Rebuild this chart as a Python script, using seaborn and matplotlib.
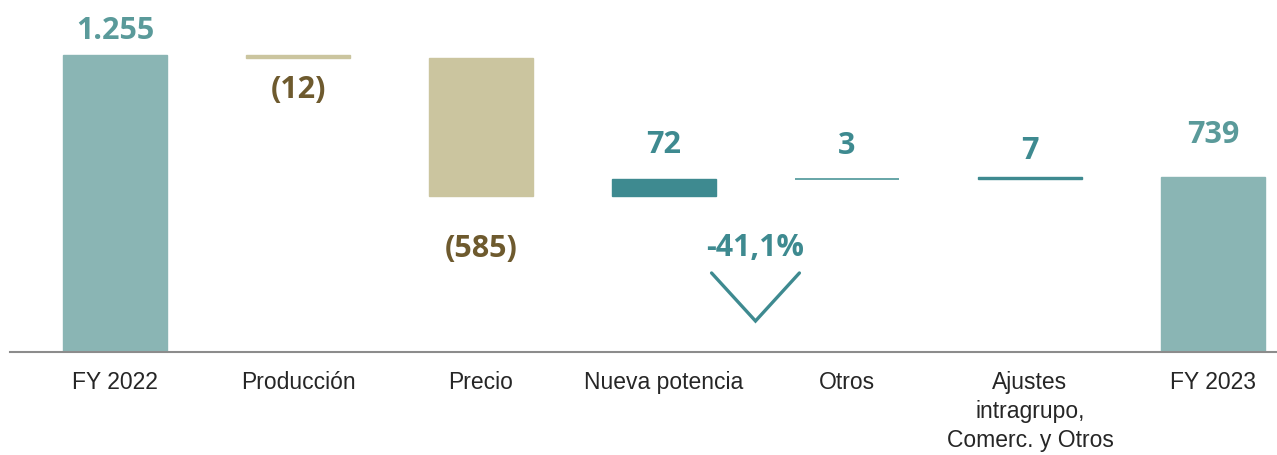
import matplotlib
matplotlib.use('Agg')
import matplotlib.pyplot as plt
import seaborn as sns
import pandas

# waterfall data (millones)
categories = ['FY 2022', 'Producción', 'Precio', 'Nueva potencia', 'Otros',
              'Ajustes\nintragrupo,\nComerc. y Otros', 'FY 2023']
deltas = [1255, -12, -585, 72, 3, 7, 739]
kinds = ['total', 'delta', 'delta', 'delta', 'delta', 'delta', 'total']
value_labels = ['1.255', '(12)', '(585)', '72', '3', '7', '739']
change_label = '-41,1%'

TOTAL = '#8AB5B4'
NEG = '#CBC59F'
POS = '#3E8A90'
LBL_TOTAL = '#5A9A9A'
LBL_POS = '#3E8A90'
LBL_NEG = '#6E5A2E'


def build_frame() -> pandas.DataFrame:
    rows = []
    running = 0
    for cat, d, k in zip(categories, deltas, kinds):
        if k == 'total':
            bottom, height = 0, d
            running = d
        else:
            bottom = running + min(d, 0)
            height = abs(d)
            running += d
        rows.append({'category': cat, 'bottom': bottom, 'height': height,
                     'top': bottom + height, 'kind': k, 'delta': d})
    return pandas.DataFrame(rows)


frame = build_frame()
colors = [TOTAL if k == 'total' else (POS if d > 0 else NEG)
          for k, d in zip(frame['kind'], frame['delta'])]

sns.set_style('white')
plt.rcParams['font.family'] = ['Open Sans', 'DejaVu Sans']

fig = plt.figure(figsize=(12.77, 4.56), dpi=100)
ax = fig.add_axes([10 / 1277, 103 / 456, 1267 / 1277, 353 / 456])

sns.barplot(data=frame, x='category', y='height', bottom=frame['bottom'].values,
            order=categories, color=TOTAL, width=0.57, saturation=1, ax=ax)
for patch, c in zip(ax.patches, colors):
    patch.set_facecolor(c)
    patch.set_edgecolor(c)
    patch.set_linewidth(1.0)
# the tiny "Otros" step is drawn as a lighter teal line
ax.patches[4].set_edgecolor('#5A9EA0')
ax.patches[4].set_linewidth(1.3)

ax.set_xlim(-0.574, 6.35)
ax.set_ylim(0, 1492)
for s in ['top', 'right', 'left']:
    ax.spines[s].set_visible(False)
ax.spines['bottom'].set_color('#8C8C8C')
ax.spines['bottom'].set_linewidth(1.5)
ax.set_yticks([])
ax.set_xlabel('')
ax.set_ylabel('')
ax.tick_params(axis='x', length=0, pad=13)
ax.set_xticks(range(len(categories)))
ax.set_xticklabels(categories, fontsize=16.5, linespacing=1.33,
                   family=['Liberation Sans', 'DejaVu Sans'], va='top',
                   color='#262626')

# value labels: offsets in pixels from bar edge
offsets = [25, -31, -52, 35, 34, 27, 43]
for i, row in frame.iterrows():
    d = row['delta']
    if row['kind'] == 'total':
        y, col = row['top'], LBL_TOTAL
    elif d > 0:
        y, col = row['top'], LBL_POS
    else:
        y, col = row['bottom'], LBL_NEG
    ax.annotate(value_labels[i], (i, y), xytext=(0, offsets[i] * 0.72),
                textcoords='offset points', ha='center', va='center',
                fontsize=22, fontweight='bold', color=col)

# change annotation with chevron
ax.annotate(change_label, (3.5, frame['top'].iloc[-1]), xytext=(0, -70 * 0.72),
            textcoords='offset points', ha='center', va='center',
            fontsize=22, fontweight='bold', color=LBL_POS)
ax.plot([3.26, 3.5, 3.74], [334, 131, 334], color=POS, linewidth=2.4,
        solid_joinstyle='miter', clip_on=False)

fig.savefig('out.png', dpi=100)
